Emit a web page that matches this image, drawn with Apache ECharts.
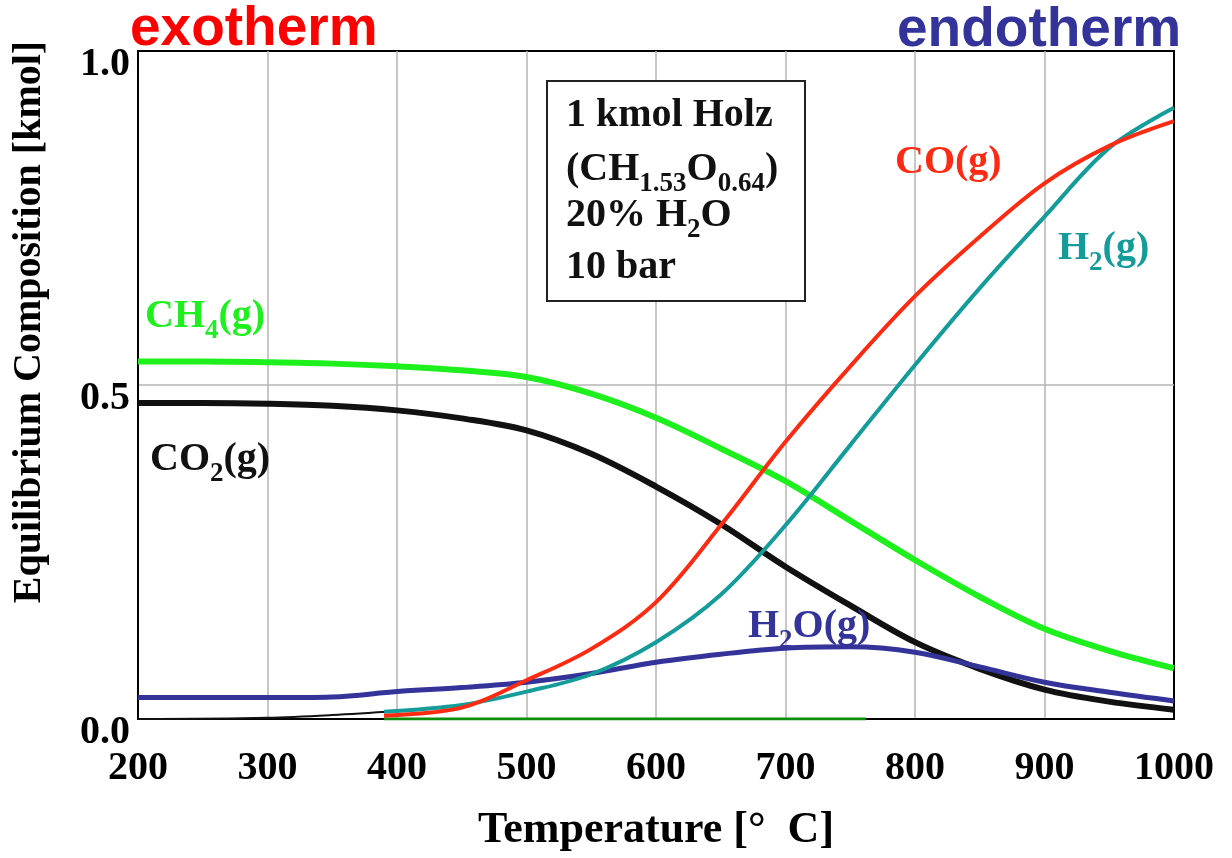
<!DOCTYPE html>
<html>
<head>
<meta charset="utf-8">
<title>Equilibrium Composition</title>
<script src="https://cdn.jsdelivr.net/npm/echarts@6/dist/echarts.min.js"></script>
<style>
  html, body { margin: 0; padding: 0; background: #fff; }
  #chart { width: 1232px; height: 858px; }
</style>
</head>
<body>
<div id="chart"></div>
<script>
// Temperatur [°C]
const temps = [200, 250, 300, 350, 400, 450, 500, 550, 600, 650, 700, 750, 800, 850, 900, 950, 1000]
// Gleichgewichtszusammensetzung [kmol]
const ch4 = [0.535, 0.535, 0.534, 0.532, 0.528, 0.522, 0.512, 0.487, 0.451, 0.405, 0.356, 0.297, 0.238, 0.183, 0.135, 0.102, 0.076]
const co2 = [0.473, 0.473, 0.472, 0.469, 0.462, 0.45, 0.432, 0.397, 0.348, 0.292, 0.228, 0.17, 0.115, 0.075, 0.044, 0.026, 0.014]
const h2o = [0.032, 0.032, 0.032, 0.033, 0.041, 0.047, 0.055, 0.068, 0.085, 0.097, 0.106, 0.108, 0.1, 0.078, 0.055, 0.04, 0.027]

const hotTemps = [390, 450, 500, 550, 600, 650, 700, 750, 800, 850, 900, 950, 1000]
const co = [0.005, 0.017, 0.058, 0.105, 0.175, 0.29, 0.415, 0.528, 0.633, 0.722, 0.802, 0.858, 0.895]
const h2 = [0.011, 0.021, 0.041, 0.067, 0.115, 0.186, 0.29, 0.41, 0.53, 0.645, 0.752, 0.855, 0.915]

// duenne Linien an der Nulllinie
const lowTemps = [200, 300, 350, 400]
const lowBlack = [0, 0.002, 0.006, 0.012]
const zeroTemps = [390, 762]
const zeroGreen = [0, 0]

const yTicks = [0, 0.5, 1]

const serif = '"Liberation Serif", "Times New Roman", serif'
const sans = '"Liberation Sans", Arial, sans-serif'

const pairs = (xs, ys) => xs.map((x, i) => [x, ys[i]])

const mkLine = (name, xs, ys, color, width) => ({
  name,
  type: 'line',
  data: pairs(xs, ys),
  smooth: 0.35,
  showSymbol: false,
  lineStyle: { color, width },
  itemStyle: { color }
})

// Beschriftung mit Index: '_' vor dem tiefgestellten Teil
const label = (parts, x, y, color) => ({
  type: 'text',
  x,
  y,
  z: 100,
  style: {
    text: parts.map(p => p[0] === '_' ? '{s|' + p.slice(1) + '}' : '{b|' + p + '}').join(''),
    verticalAlign: 'middle',
    fill: color,
    rich: {
      b: { fontFamily: serif, fontWeight: 'bold', fontSize: 40, color },
      s: { fontFamily: serif, fontWeight: 'bold', fontSize: 27, color, padding: [28, 0, 0, 0] }
    }
  }
})

const gridLine = { show: true, showMinLine: false, showMaxLine: false, lineStyle: { color: '#b4b4b4', width: 1.5 } }

const myChart = echarts.init(document.getElementById('chart'))
myChart.setOption({
  animation: false,
  grid: {
    left: 138,
    right: 58,
    top: 51,
    bottom: 139,
    show: true,
    borderColor: '#000',
    borderWidth: 2
  },
  xAxis: {
    type: 'value',
    min: 200,
    max: 1000,
    interval: 100,
    name: 'Temperature [°  C]',
    nameLocation: 'middle',
    nameGap: 90,
    nameTextStyle: { fontFamily: serif, fontWeight: 'bold', fontSize: 44, color: '#000' },
    axisLine: { show: true, lineStyle: { color: '#000', width: 2 } },
    axisTick: { show: false },
    axisLabel: {
      fontFamily: serif, fontWeight: 'bold', fontSize: 40, lineHeight: 40, color: '#000', margin: 30,
      formatter: v => String(v)
    },
    splitLine: gridLine
  },
  yAxis: {
    type: 'value',
    min: yTicks[0],
    max: yTicks[yTicks.length - 1],
    interval: 0.5,
    axisLine: { show: true, lineStyle: { color: '#000', width: 2 } },
    axisTick: { show: false },
    axisLabel: {
      fontFamily: serif, fontWeight: 'bold', fontSize: 40, lineHeight: 28, color: '#000',
      margin: 8,
      verticalAlign: 'top',
      formatter: v => v.toFixed(1)
    },
    splitLine: gridLine
  },
  series: [
    mkLine('C', lowTemps, lowBlack, '#111', 2),
    mkLine('zero', zeroTemps, zeroGreen, '#0b8c0b', 3),
    mkLine('CH4', temps, ch4, '#1ef01e', 6),
    mkLine('CO2', temps, co2, '#111', 6),
    mkLine('H2O', temps, h2o, '#333399', 5),
    mkLine('H2', hotTemps, h2, '#139c9a', 4),
    mkLine('CO', hotTemps, co, '#ff2a12', 4)
  ],
  graphic: [
    {
      type: 'text', x: 30, y: 322, rotation: Math.PI / 2, z: 100,
      style: {
        text: 'Equilibrium Composition [kmol]', font: 'bold 40px ' + serif, fill: '#000',
        align: 'center', verticalAlign: 'middle'
      }
    },
    {
      type: 'text', x: 130, y: 30, z: 100,
      style: { text: 'exotherm', font: 'bold 55px ' + sans, fill: '#ff0000', verticalAlign: 'middle' }
    },
    {
      type: 'text', x: 897, y: 31, z: 100,
      style: { text: 'endotherm', font: 'bold 55px ' + sans, fill: '#333399', verticalAlign: 'middle' }
    },
    {
      type: 'rect', z: 90,
      shape: { x: 547, y: 81, width: 258, height: 220 },
      style: { fill: '#fff', stroke: '#222', lineWidth: 2 }
    },
    label(['1 kmol Holz'], 566, 116, '#111'),
    label(['(CH', '_1.53', 'O', '_0.64', ')'], 566, 170, '#111'),
    label(['20% H', '_2', 'O'], 566, 216, '#111'),
    label(['10 bar'], 566, 268, '#111'),
    label(['CH', '_4', '(g)'], 145, 317, '#1ef01e'),
    label(['CO', '_2', '(g)'], 150, 460, '#111'),
    label(['CO(g)'], 895, 163, '#ff2a12'),
    label(['H', '_2', '(g)'], 1058, 249, '#139c9a'),
    label(['H', '_2', 'O(g)'], 748, 627, '#333399')
  ]
})
</script>
</body>
</html>
